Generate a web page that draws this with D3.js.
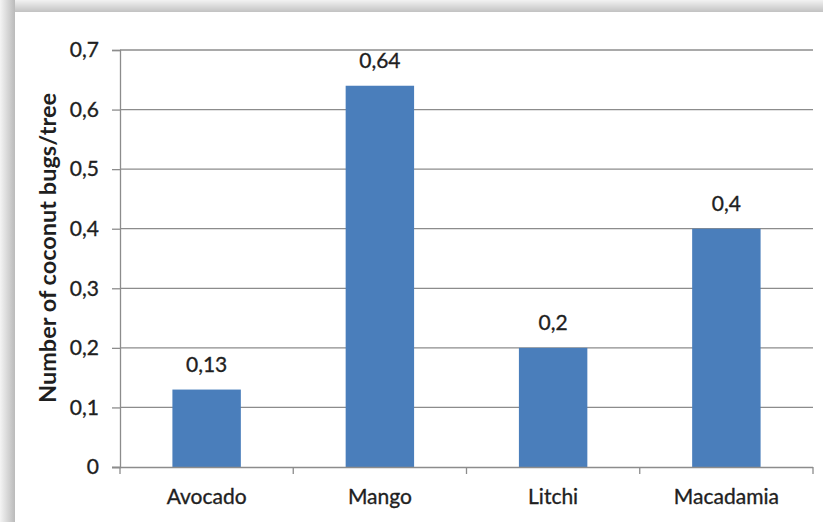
<!DOCTYPE html>
<html>
<head>
<meta charset="utf-8">
<script src="https://cdn.jsdelivr.net/npm/d3@7"></script>
<style>
  html, body { margin: 0; padding: 0; background: #fff; }
  svg { display: block; }
  text { font-family: Lato, "Open Sans", sans-serif; fill: #1f1f1f; }
</style>
</head>
<body>
<svg id="chart" width="823" height="522"></svg>
<script>
const categories = ["Avocado", "Mango", "Litchi", "Macadamia"];
const values = [0.13, 0.64, 0.2, 0.4];
const valueLabels = ["0,13", "0,64", "0,2", "0,4"];
const yTicks = [0, 0.1, 0.2, 0.3, 0.4, 0.5, 0.6, 0.7];
const yTickLabels = ["0", "0,1", "0,2", "0,3", "0,4", "0,5", "0,6", "0,7"];
const yTitle = "Number of coconut bugs/tree";

const W = 823, H = 522;
const svg = d3.select("#chart");
const defs = svg.append("defs");

const gTop = defs.append("linearGradient").attr("id", "gTop").attr("x1", 0).attr("y1", 0).attr("x2", 0).attr("y2", 1);
gTop.append("stop").attr("offset", 0).attr("stop-color", "#f2f2f2");
gTop.append("stop").attr("offset", 1).attr("stop-color", "#c2c2c2");
const gLeft = defs.append("linearGradient").attr("id", "gLeft").attr("x1", 0).attr("y1", 0).attr("x2", 1).attr("y2", 0);
gLeft.append("stop").attr("offset", 0).attr("stop-color", "#f4f4f4");
gLeft.append("stop").attr("offset", 1).attr("stop-color", "#bababa");

svg.append("rect").attr("x", 0).attr("y", 0).attr("width", W).attr("height", 12).attr("fill", "url(#gTop)");
svg.append("rect").attr("x", 0).attr("y", 0).attr("width", 15).attr("height", H).attr("fill", "url(#gLeft)");
svg.append("rect").attr("x", 15).attr("y", 12).attr("width", W - 15).attr("height", H - 12).attr("fill", "#fff");

const plot = { left: 120, right: 813, top: 50, bottom: 467 };

const x = d3.scaleBand().domain(categories).range([plot.left, plot.right]).padding(0);
const y = d3.scaleLinear().domain([0, 0.7]).range([plot.bottom, plot.top]);
const barFrac = 0.395;
const fontSize = 21;
const textStroke = "#1f1f1f";

const yAxis = d3.axisLeft(y).tickValues(yTicks).tickSize(8).tickFormat((d, i) => yTickLabels[i]).tickPadding(13);
const gy = svg.append("g").attr("transform", `translate(${plot.left},0)`).call(yAxis);
gy.select(".domain").attr("stroke", "#8c8c8c").attr("stroke-width", 1.3);
gy.selectAll(".tick line").attr("stroke", "#8c8c8c").attr("stroke-width", 1.3);
gy.selectAll(".tick text").attr("font-size", fontSize).attr("font-family", "Lato, sans-serif")
  .attr("fill", "#1f1f1f").attr("stroke", textStroke).attr("stroke-width", 0.35);

svg.append("g").selectAll("line").data(yTicks.filter(d => d > 0)).join("line")
  .attr("x1", plot.left).attr("x2", plot.right)
  .attr("y1", d => y(d)).attr("y2", d => y(d))
  .attr("stroke", "#8c8c8c").attr("stroke-width", 1.3);

svg.append("g").selectAll("rect").data(values).join("rect")
  .attr("x", (d, i) => x(categories[i]) + x.bandwidth() * (1 - barFrac) / 2)
  .attr("width", x.bandwidth() * barFrac)
  .attr("y", d => y(d))
  .attr("height", d => y(0) - y(d))
  .attr("fill", "#4a7ebb");

const xAxis = d3.axisBottom(x).tickSize(0).tickPadding(22);
const gx = svg.append("g").attr("transform", `translate(0,${plot.bottom})`).call(xAxis);
gx.select(".domain").attr("stroke", "#8c8c8c").attr("stroke-width", 1.3).attr("d", `M${plot.left - 8},0.5H${plot.right}`);
gx.selectAll(".tick text").attr("font-size", fontSize).attr("font-family", "Lato, sans-serif")
  .attr("fill", "#1f1f1f").attr("stroke", textStroke).attr("stroke-width", 0.35);
const bounds = categories.map(c => x(c)).concat([x(categories[categories.length - 1]) + x.bandwidth()]);
svg.append("g").selectAll("line").data(bounds).join("line")
  .attr("x1", d => d).attr("x2", d => d)
  .attr("y1", plot.bottom).attr("y2", plot.bottom + 7)
  .attr("stroke", "#8c8c8c").attr("stroke-width", 1.3);

svg.append("g").selectAll("text").data(values).join("text")
  .attr("x", (d, i) => x(categories[i]) + x.bandwidth() / 2)
  .attr("y", d => y(d) - 18)
  .attr("text-anchor", "middle")
  .attr("font-size", fontSize)
  .attr("stroke", textStroke).attr("stroke-width", 0.35)
  .text((d, i) => valueLabels[i]);

svg.append("text")
  .attr("transform", `translate(56,248) rotate(-90)`)
  .attr("text-anchor", "middle")
  .attr("font-size", 23.5)
  .attr("font-weight", "bold")
  .text(yTitle);
</script>
</body>
</html>
